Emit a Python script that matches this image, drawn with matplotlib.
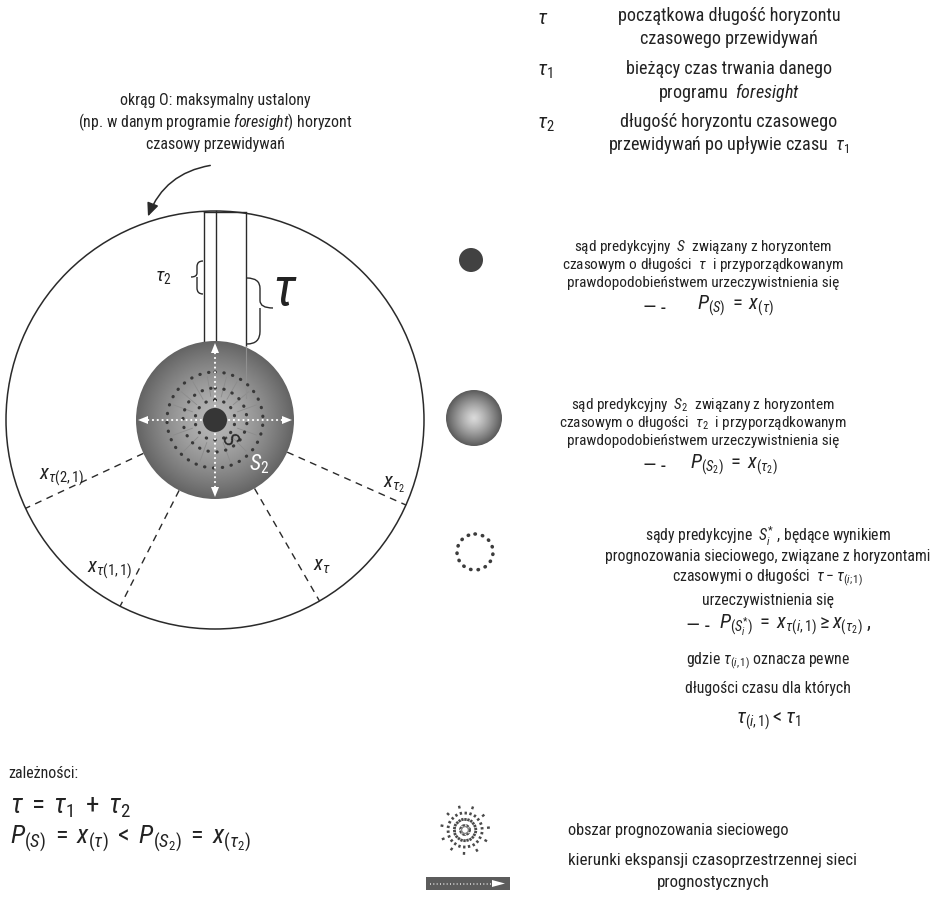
import numpy as np
import matplotlib
matplotlib.use("Agg")
import matplotlib.pyplot as plt
from matplotlib import font_manager as fm
from matplotlib.patches import Circle, Rectangle, Polygon, FancyArrowPatch, PathPatch
from matplotlib.path import Path
from matplotlib.colors import LinearSegmentedColormap

names = {f.name for f in fm.fontManager.ttflist}
prefs = ['Liberation Sans Narrow', 'Arial Narrow', 'Roboto Condensed', 'Archivo Narrow',
         'PT Sans Narrow', 'IBM Plex Sans Condensed', 'Liberation Sans']
FONT = next(p for p in prefs if p in names)
plt.rcParams['font.family'] = [FONT, 'DejaVu Sans']
plt.rcParams['mathtext.fontset'] = 'custom'
plt.rcParams['mathtext.rm'] = FONT
plt.rcParams['mathtext.it'] = FONT + ':italic'
plt.rcParams['mathtext.bf'] = FONT + ':bold'

# ---------------- data (texts) ----------------
title_lines = ["okrąg O: maksymalny ustalony",
               "(np. w danym programie $\\it{foresight}$) horyzont",
               "czasowy przewidywań"]
symbol_labels = ["$\\tau$", "$\\tau_1$", "$\\tau_2$"]
symbol_texts = [["początkowa długość horyzontu", "czasowego przewidywań"],
                ["bieżący czas trwania danego", "programu  $\\it{foresight}$"],
                ["długość horyzontu czasowego", "przewidywań po upływie czasu  $\\tau_1$"]]
s_texts = ["sąd predykcyjny  $S$  związany z horyzontem",
           "czasowym o długości  $\\tau$  i przyporządkowanym",
           "prawdopodobieństwem urzeczywistnienia się"]
s_formula = "$P_{(S)}\\;=\\;x_{(\\tau)}$"
s2_texts = ["sąd predykcyjny  $S_2$  związany z horyzontem",
            "czasowym o długości  $\\tau_2$  i przyporządkowanym",
            "prawdopodobieństwem urzeczywistnienia się"]
s2_formula = "$P_{(S_2)}\\;=\\;x_{(\\tau_2)}$"
si_texts = ["sądy predykcyjne  $S_i^{*}$ , będące wynikiem",
            "prognozowania sieciowego, związane z horyzontami",
            "czasowymi o długości  $\\tau - \\tau_{(i;1)}$",
            "urzeczywistnienia się"]
si_formula = "$P_{(S_i^{*})}\\;=\\;x_{\\tau(i,1)} \\geq x_{(\\tau_2)}$ ,"
si_more = ["gdzie $\\tau_{(i,1)}$ oznacza pewne",
           "długości czasu dla których"]
si_last = "$\\tau_{(i,1)} < \\tau_1$"
dash_mark = "— -"
net_text = "obszar prognozowania sieciowego"
dir_texts = ["kierunki ekspansji czasoprzestrzennej sieci", "prognostycznych"]
relations_head = "zależności:"
relations = ["$\\tau\\;=\\;\\tau_1\\;+\\;\\tau_2$",
             "$P_{(S)}\\;=\\;x_{(\\tau)}\\;<\\;P_{(S_2)}\\;=\\;x_{(\\tau_2)}$"]
x_labels = ["$x_{\\tau(2,1)}$", "$x_{\\tau(1,1)}$", "$x_{\\tau}$", "$x_{\\tau_2}$"]
x_angles = [205, 243, -60, -24]   # directions of dashed radii (degrees)

# ---------------- figure ----------------
W, H = 950, 909
fig = plt.figure(figsize=(W / 100, H / 100), dpi=100)
ax = fig.add_axes([0, 0, 1, 1])
ax.set_xlim(0, W)
ax.set_ylim(H, 0)
ax.axis('off')
renderer = fig.canvas.get_renderer()

def fit(text, target, base=12.0):
    t = ax.text(0, 0, text, fontsize=base)
    w = t.get_window_extent(renderer).width
    t.remove()
    return base * target / w

INK = '#2a2a2a'
TXT = '#222222'

# outer circle
CX, CY, R = 215, 420, 209
ax.add_patch(Circle((CX, CY), R, fill=False, ec=INK, lw=1.1, zorder=2))

def sphere(cx, cy, r, c_edge, c_mid, z=3, power=1.0):
    n = 200
    yy, xx = np.mgrid[-1:1:n * 1j, -1:1:n * 1j]
    d = np.clip(np.sqrt(xx ** 2 + yy ** 2), 0, 1) ** power
    cmap = LinearSegmentedColormap.from_list('g', [c_mid, c_edge])
    im = ax.imshow(d, cmap=cmap, vmin=0, vmax=1,
                   extent=(cx - r, cx + r, cy + r, cy - r), zorder=z, interpolation='bilinear')
    im.set_clip_path(Circle((cx, cy), r, transform=ax.transData))
    return im

# central sphere S2
r2 = 79
sphere(CX, CY, r2, '#646464', '#b8b8b8', z=3, power=1.4)
for rr in (20, 32, 48):
    ax.add_patch(Circle((CX, CY), rr, fill=False, ec='#383838', lw=2.3,
                        linestyle=(0, (0.1, 2.7)), capstyle='round', zorder=5))
for ang in (90, 180, 270, 0):
    a = np.deg2rad(ang)
    ux, uy = np.cos(a), -np.sin(a)
    ax.plot([CX + ux * 14, CX + ux * (r2 - 8)], [CY + uy * 14, CY + uy * (r2 - 8)],
            color='white', lw=1.5, linestyle=(0, (0.1, 2.2)),
            dash_capstyle='round', zorder=6)
    tip = (CX + ux * (r2 - 2), CY + uy * (r2 - 2))
    base = (CX + ux * (r2 - 12), CY + uy * (r2 - 12))
    px, py = -uy, ux
    ax.add_patch(Polygon([tip, (base[0] + px * 4, base[1] + py * 4),
                          (base[0] - px * 4, base[1] - py * 4)], closed=True,
                         fc='white', ec='none', zorder=6))
for ang in (60, 75, 100, 120, 140, 160, 200, 225, 250, 290, 315, 340, 20, 40):
    a = np.deg2rad(ang)
    ax.plot([CX + np.cos(a) * 24, CX + np.cos(a) * 44], [CY - np.sin(a) * 24, CY - np.sin(a) * 44],
            color='#8c8c8c', lw=0.6, zorder=4)
ax.add_patch(Circle((CX, CY), 12, fc='#363636', ec='none', zorder=7))
ax.text(CX + 14, CY + 20, "$S$", fontsize=16, color='#2a2a2a', rotation=-60,
        ha='center', va='center', zorder=7)
ax.text(CX + 44, CY + 44, "$S_2$", fontsize=16, color='white', ha='center', va='center', zorder=7)

# vertical lines and braces
ax.plot([204, 204], [212, 342], color=INK, lw=1.0, zorder=2)
ax.plot([216, 216], [211, 341], color=INK, lw=1.0, zorder=2)
ax.plot([246, 246], [213, 346], color=INK, lw=1.0, zorder=2)
ax.plot([246, 246], [346, 398], color='#909090', lw=0.8, zorder=4)
ax.plot([204, 246], [211.5, 211.5], color=INK, lw=1.0, zorder=2)

def brace(xs, y0, y1, w, ym):
    h1 = ym - y0
    h2 = y1 - ym
    xm = xs + w * 0.5
    verts = [(xs, y0), (xm, y0), (xm, y0 + h1 * 0.35),
             (xm, ym - h1 * 0.25), (xm, ym), (xs + w, ym),
             (xm, ym), (xm, ym + h2 * 0.25),
             (xm, y1 - h2 * 0.35), (xm, y1), (xs, y1)]
    codes = [Path.MOVETO, Path.CURVE3, Path.CURVE3,
             Path.LINETO, Path.CURVE3, Path.CURVE3,
             Path.MOVETO, Path.LINETO,
             Path.LINETO, Path.CURVE3, Path.CURVE3]
    ax.add_patch(PathPatch(Path(verts, codes), fill=False, ec=INK, lw=1.0, zorder=2))

brace(203, 261, 294, -12, 277)
brace(247, 278, 344, 26, 308)
ax.text(163, 277, "$\\tau_2$", fontsize=14, ha='center', va='center', color=TXT)
ax.text(285, 290, "$\\tau$", fontsize=38, ha='center', va='center', color=TXT)

# dashed radii
for ang in x_angles:
    a = np.deg2rad(ang)
    ax.plot([CX + np.cos(a) * r2, CX + np.cos(a) * R], [CY - np.sin(a) * r2, CY - np.sin(a) * R],
            color=INK, lw=1.0, linestyle=(0, (5, 4)), zorder=2)
label_pos = [(62, 477), (110, 570), (322, 567), (394, 485)]
for lab, (lx, ly) in zip(x_labels, label_pos):
    ax.text(lx, ly, lab, fontsize=15, ha='center', va='center', color=TXT)

# title + arrow
fs_title = fit(title_lines[0], 190)
for i, t in enumerate(title_lines):
    ax.text(215, 100 + i * 22, t, fontsize=fs_title, ha='center', va='center', color=TXT)
ax.add_patch(FancyArrowPatch((213, 165), (147, 219), connectionstyle="arc3,rad=0.3",
                             arrowstyle='-|>,head_length=8,head_width=3.5',
                             color=INK, lw=1.1, zorder=3))

# ---------------- right legend ----------------
fs_top = fit(symbol_texts[2][0], 216)
for i, (sym, lines) in enumerate(zip(symbol_labels, symbol_texts)):
    y0 = 16 + i * 53
    ax.text(537, y0 + 2, sym, fontsize=fs_top + 2, ha='left', va='center', color=TXT)
    for j, t in enumerate(lines):
        ax.text(729, y0 + j * 23, t, fontsize=fs_top, ha='center', va='center', color=TXT)

fs_mid = fit(s_texts[1], 280)
FORM = fs_mid * 1.35
# S dot
ax.add_patch(Circle((471, 260), 12, fc='#424242', ec='none', zorder=3))
for j, t in enumerate(s_texts):
    ax.text(703, 247 + j * 18, t, fontsize=fs_mid, ha='center', va='center', color=TXT)
ax.text(643, 308, dash_mark, fontsize=fs_mid * 1.3, ha='left', va='center', color=TXT)
ax.text(697, 306, s_formula, fontsize=FORM, ha='left', va='center', color=TXT)

# S2 ball
sphere(474, 418, 28, '#5a5a5a', '#dadada', z=3, power=1.2)
for j, t in enumerate(s2_texts):
    ax.text(703, 405 + j * 18, t, fontsize=fs_mid, ha='center', va='center', color=TXT)
ax.text(643, 467, dash_mark, fontsize=fs_mid * 1.3, ha='left', va='center', color=TXT)
ax.text(690, 465, s2_formula, fontsize=FORM, ha='left', va='center', color=TXT)

# dotted circle icon
ax.add_patch(Circle((475, 552), 18, fill=False, ec='#3c3c3c', lw=2.6,
                    linestyle=(0, (0.1, 2.0)), capstyle='round', zorder=3))
fs_si = fit(si_texts[1], 324)
for t, y in zip(si_texts, [536, 557, 578, 600]):
    ax.text(768, y, t, fontsize=fs_si, ha='center', va='center', color=TXT)
ax.text(686, 627, dash_mark, fontsize=fs_si * 1.3, ha='left', va='center', color=TXT)
ax.text(719, 625, si_formula, fontsize=fs_si * 1.3, ha='left', va='center', color=TXT)
for t, y in zip(si_more, [661, 688]):
    ax.text(768, y, t, fontsize=fs_si, ha='center', va='center', color=TXT)
ax.text(768, 721, si_last, fontsize=fs_si * 1.3, ha='center', va='center', color=TXT)

# network icon (starburst of dashed rays)
NX, NY = 465, 830
for k in range(22):
    a = 2 * np.pi * k / 22 + 0.1
    rr = 25 if k % 2 == 0 else 20
    r0 = 3 + (k % 3) * 2
    ax.plot([NX + np.cos(a) * r0, NX + np.cos(a) * rr], [NY - np.sin(a) * r0, NY - np.sin(a) * rr],
            color='#4a4a4a', lw=1.7, linestyle=((k * 0.9) % 2.7, (1.2, 1.5)), zorder=3)
ax.add_patch(Circle((NX, NY), 3.5, fill=False, ec='#8a8a8a', lw=1.0, zorder=3))
fs_net = fit(net_text, 222)
ax.text(568, 830, net_text, fontsize=fs_net, ha='left', va='center', color=TXT)

# direction bar icon
ax.add_patch(Rectangle((426, 877), 84, 13, fc='#5c5c5c', ec='none', zorder=3))
ax.plot([430, 492], [883.5, 883.5], color='#d8d8d8', lw=1.2, linestyle=(0, (0.6, 1.4)), zorder=4)
ax.add_patch(Polygon([(492, 880), (492, 887), (505, 883.5)], closed=True, fc='white', ec='none', zorder=4))
fs_dir = fit(dir_texts[0], 286)
for j, t in enumerate(dir_texts):
    ax.text(713, 861 + j * 22, t, fontsize=fs_dir, ha='center', va='center', color=TXT)

# relations
ax.text(8, 773, relations_head, fontsize=fit(relations_head, 70), ha='left', va='center', color=TXT)
ax.text(10, 806, relations[0], fontsize=fit(relations[0], 122), ha='left', va='center', color=TXT)
ax.text(10, 839, relations[1], fontsize=fit(relations[1], 242), ha='left', va='center', color=TXT)

fig.savefig('out.png', dpi=100)
